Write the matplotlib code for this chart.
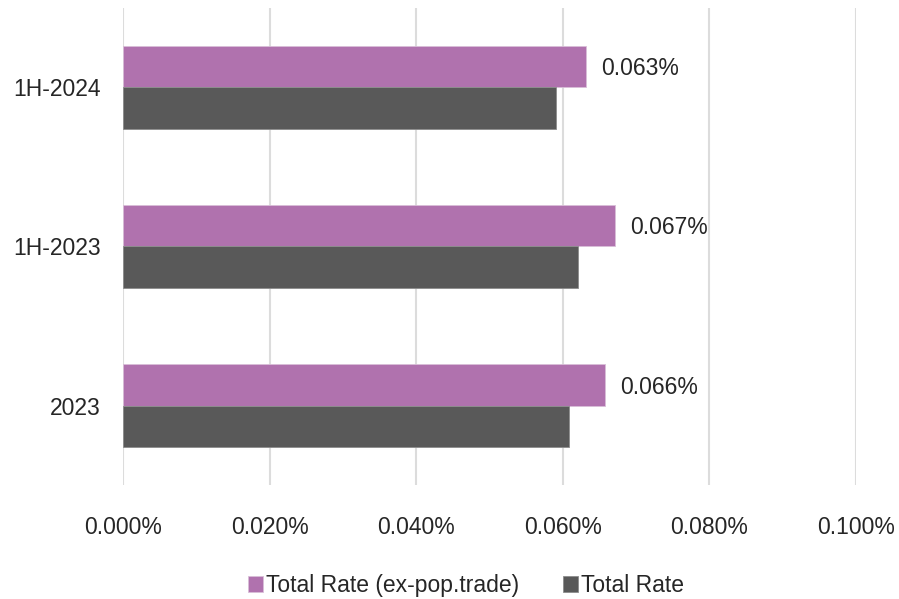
import matplotlib.pyplot as plt
import numpy as np

# Data (percent values)
categories = ['2023', '1H-2023', '1H-2024']
ex_pop_trade = [0.0658, 0.0671, 0.0631]
total_rate = [0.0609, 0.0621, 0.0591]
label_text = ['0.066%', '0.067%', '0.063%']
xticks = [0.0, 0.02, 0.04, 0.06, 0.08, 0.10]

purple = '#B072AE'
grey = '#595959'

plt.rcParams['font.family'] = ['Liberation Sans', 'DejaVu Sans']

fig = plt.figure(figsize=(8.99, 5.99), dpi=100)
ax = fig.add_axes([0.1368, 0.19, 0.8154, 0.797])

y = np.arange(len(categories))
h = 0.26
ax.barh(y + h / 2, ex_pop_trade, height=h, color=purple, edgecolor='#D9BFD8',
        linewidth=0.6, label='Total Rate (ex-pop.trade)', zorder=3)
ax.barh(y - h / 2, total_rate, height=h, color=grey, edgecolor='#8C8C8C',
        linewidth=0.6, label='Total Rate', zorder=3)

for yi, v, t in zip(y, ex_pop_trade, label_text):
    ax.annotate(t, (v, yi + h / 2), xytext=(11, -1.5), textcoords='offset points',
                va='center', ha='left', fontsize=16.5, color='#262626')

ax.set_xlim(0, 0.1)
ax.set_ylim(-0.5, len(categories) - 0.5)
ax.set_xticks(xticks)
ax.set_xticklabels([f'{v:.3f}%' for v in xticks], fontsize=16.5, color='#262626')
ax.set_yticks(y)
ax.set_yticklabels(categories, fontsize=16.5, color='#262626')
ax.tick_params(axis='both', length=0)
ax.tick_params(axis='x', pad=22)
ax.tick_params(axis='y', pad=16)
ax.grid(axis='x', color='#DCDCDC', linewidth=1.5, zorder=0)
for s in ax.spines.values():
    s.set_visible(False)

ax.legend(loc='center', bbox_to_anchor=(0.468, -0.21), ncol=2, frameon=False,
          fontsize=16.5, handlelength=0.65, handleheight=0.65, handletextpad=0.15,
          columnspacing=1.9, labelcolor='#262626')

plt.savefig('out.png', dpi=100)
plt.close()
